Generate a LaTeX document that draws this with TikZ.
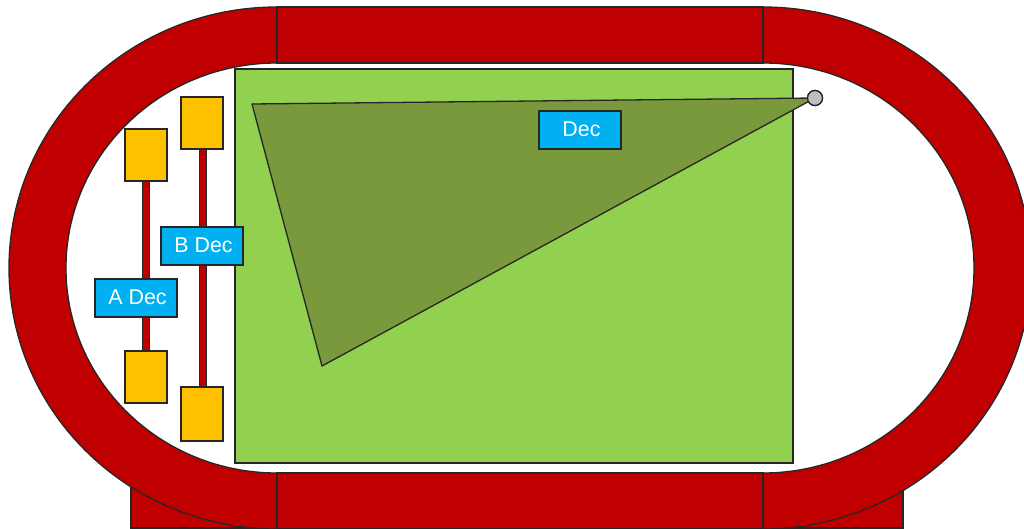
\documentclass[tikz,border=0pt]{standalone}
\usepackage{fontspec}
\setmainfont{Liberation Sans}
\definecolor{ringred}{HTML}{C00000}
\definecolor{amber}{HTML}{FFC000}
\definecolor{skyb}{HTML}{00B0F0}
\definecolor{grassg}{HTML}{92D050}
\definecolor{oliveg}{HTML}{7A993C}
\definecolor{knob}{HTML}{BFBFBF}
\newcommand{\lablift}[1]{\raisebox{1.8pt}{\hspace{3pt}#1}}
\tikzset{
  outl/.style={draw=black!85,line width=1.3pt},
  ringpart/.style={outl,fill=ringred},
  labelbox/.style={outl,fill=skyb,text=white,minimum width=82pt,minimum height=38pt,inner sep=0pt,font=\fontsize{21.4}{25}\selectfont,anchor=center},
  weight/.style={outl,fill=amber,inner sep=0pt,anchor=center},
  bar/.style={draw=black!85,line width=1.2pt,double=ringred,double distance=5.6pt}
}
\begin{document}
\begin{tikzpicture}[x=1pt,y=-1pt]
\useasboundingbox (0,0) rectangle (1024,529);
\clip (0,0) rectangle (1024,529);
% base behind the ring
\draw[ringpart] (131,476) rectangle (903,528);
% ring
\draw[ringpart] (277,7) arc[start angle=90,end angle=270,x radius=268pt,y radius=261pt]
  -- (277,473) arc[start angle=270,end angle=90,x radius=211pt,y radius=205pt] -- cycle;
\draw[ringpart] (763,7) arc[start angle=90,end angle=-90,x radius=268pt,y radius=261pt]
  -- (763,473) arc[start angle=-90,end angle=90,x radius=211pt,y radius=205pt] -- cycle;
\draw[ringpart] (277,7) rectangle (763,63);
\draw[ringpart] (277,473) rectangle (763,529);
% field
\node[outl,fill=grassg,minimum width=558pt,minimum height=394pt,inner sep=0pt,anchor=center] (field) at (514,266) {};
% sensor and triangle
\coordinate (ta) at (252,104);
\coordinate (tb) at (322,366);
\node[outl,fill=knob,circle,minimum size=15pt,inner sep=0pt] (sensor) at (815,98) {};
\draw[draw=black!85,line width=1.3pt,fill=oliveg,line join=round] (ta) -- (sensor.center) -- (tb) -- cycle;
\node[outl,fill=knob,circle,minimum size=15pt,inner sep=0pt] at (815,98) {};
% weights
\node[weight,minimum width=42pt,minimum height=52pt] (a1) at (146,155) {};
\node[weight,minimum width=42pt,minimum height=52pt] (a2) at (146,377) {};
\node[weight,minimum width=42pt,minimum height=52pt] (b1) at (202,123) {};
\node[weight,minimum width=42pt,minimum height=54pt] (b2) at (202,414) {};
\draw[bar] (a1.south) -- (a2.north);
\draw[bar] ([xshift=1pt]b1.south) -- ([xshift=1pt]b2.north);
% labels
\node[labelbox] (adec) at (136,298) {\lablift{A Dec}};
\node[labelbox] (bdec) at (202,246) {\lablift{B Dec}};
\node[labelbox] (dec) at (580,130) {\lablift{Dec}};
\end{tikzpicture}
\end{document}
